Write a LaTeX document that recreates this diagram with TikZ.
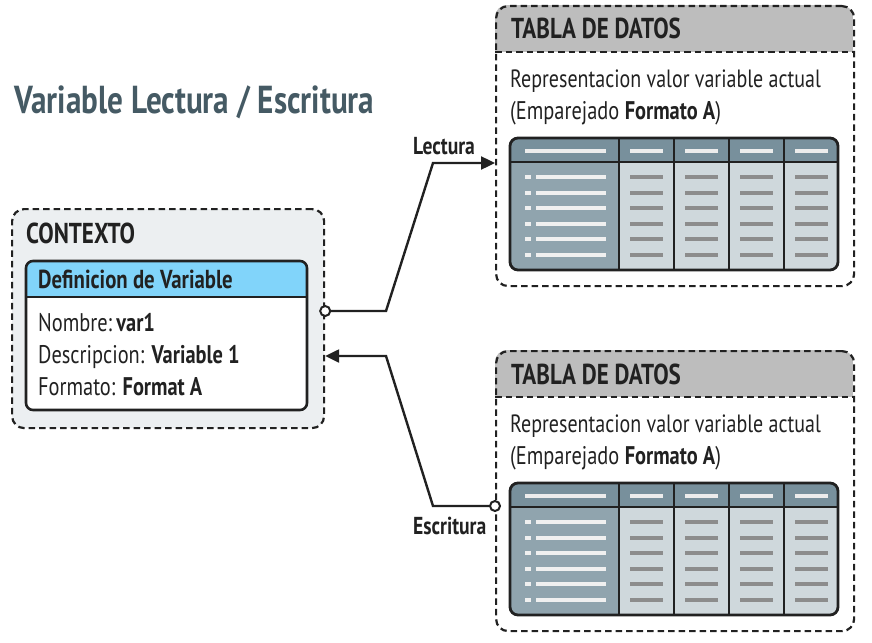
\documentclass[tikz,border=0pt]{standalone}
\usepackage{fontspec}
\setmainfont{PT Sans}[FakeStretch=0.8]
\usetikzlibrary{arrows.meta}
\definecolor{titulo}{HTML}{455A64}
\definecolor{fondoctx}{HTML}{ECEFF1}
\definecolor{azulcab}{HTML}{81D4FA}
\definecolor{grisbase}{HTML}{BDBDBD}
\definecolor{cabtabla}{HTML}{78909C}
\definecolor{colprim}{HTML}{90A4AE}
\definecolor{colresto}{HTML}{CFD8DC}
\definecolor{tinta}{HTML}{212121}
\tikzset{
 caja/.style={draw=tinta, line width=2.2pt, dash pattern=on 6.5pt off 4pt, rounded corners=12pt, inner sep=0pt},
 flecha/.style={draw=tinta, line width=2.4pt, -{Triangle[length=14pt,width=13pt]}},
 enlace/.style={circle, draw=tinta, fill=white, line width=2pt, minimum size=10pt, inner sep=0pt},
 texto/.style={anchor=base west, inner sep=0pt, text=tinta},
 etiq/.style={texto, font=\fontsize{24.5}{28}\selectfont\bfseries},
}
\begin{document}
\begin{tikzpicture}[x=1pt,y=-1pt, font=\fontsize{25.5}{30}\selectfont]
 \useasboundingbox (0,0) rectangle (872,642);
 \node[texto, text=titulo, font=\fontsize{39}{44}\selectfont\bfseries] (titulo) at (14,113) {Variable Lectura / Escritura};
 % contexto
 \node[caja, fill=fondoctx, minimum width=312, minimum height=219, anchor=north west] (ctx) at (11,208) {};
 \node[texto, font=\fontsize{28.8}{32}\selectfont\bfseries] (ctxtit) at (26,243) {CONTEXTO};
 \begin{scope}
  \clip[rounded corners=7pt] (26,261) rectangle (307,410);
  \fill[white] (26,261) rectangle (307,410);
  \fill[azulcab] (26,261) rectangle (307,297);
 \end{scope}
 \draw[tinta, line width=2.6pt, rounded corners=7pt] (26,261) rectangle (307,410);
 \draw[tinta, line width=2pt] (26,297) -- (307,297);
 \node[texto, font=\fontsize{26}{30}\selectfont\bfseries] (defvar) at (38,288) {Definicion de Variable};
 \node[texto] (nombre) at (38,331) {Nombre:\,\textbf{var1}};
 \node[texto] (descr) at (38,363) {Descripcion: \textbf{Variable 1}};
 \node[texto] (formato) at (38,395) {Formato: \textbf{Format A}};
 % tablas de datos
 \foreach \dy/\n in {0/sup,345/inf}{
  \begin{scope}[shift={(0,\dy)}]
   \begin{scope}
    \clip[rounded corners=12pt] (495,5) rectangle (853,285);
    \fill[grisbase] (495,5) rectangle (853,52);
   \end{scope}
   \node[caja, minimum width=358, minimum height=280, anchor=north west] (tabla\n) at (495,5) {};
   \draw[tinta, line width=2.2pt, dash pattern=on 6.5pt off 4pt] (495,52) -- (853,52);
   \node[texto, font=\fontsize{28.8}{32}\selectfont\bfseries] (tit\n) at (511,39) {TABLA DE DATOS};
   \node[texto, font=\fontsize{25}{30}\selectfont] (rep\n) at (510,87) {Representacion valor variable actual};
   \node[texto] (emp\n) at (510,119) {(Emparejado \textbf{Formato A})};
   \begin{scope}
    \clip[rounded corners=8pt] (510,138) rectangle (838,270);
    \fill[colresto] (510,138) rectangle (838,270);
    \fill[colprim] (510,138) rectangle (619,270);
    \fill[cabtabla] (510,138) rectangle (838,162);
   \end{scope}
   \foreach \xa in {619,674,729,784}
    \draw[tinta, line width=2.2pt] (\xa,138) -- (\xa,270);
   \draw[tinta, line width=2.2pt] (510,162) -- (838,162);
   \draw[tinta, line width=2.8pt, rounded corners=8pt] (510,138) rectangle (838,270);
   \fill[gray!15] (525,149) rectangle (606,153);
   \foreach \xc in {646.5,701.5,756.5,811}{
    \fill[gray!15] (\xc-16.5,149) rectangle (\xc+16.5,153);
    \foreach \yr in {177,193,208,224,239,255}
     \fill[gray!90] (\xc-16.5,\yr-2) rectangle (\xc+16.5,\yr+2);
   }
   \foreach \yr in {177,193,208,224,239,255}{
    \fill[gray!12] (525,\yr-2) rectangle (531,\yr+2);
    \fill[gray!12] (536,\yr-2) rectangle (606,\yr+2);
   }
  \end{scope}
 }
 % conectores
 \node[enlace] (lecini) at (ctx.east |- 0,311) {};
 \coordinate (leca) at (386,311);
 \coordinate (lecb) at (433,163);
 \draw[flecha] (lecini) -- (leca) -- (lecb) -- (tablasup.west |- lecb);
 \node[etiq] (lectura) at (413,154) {Lectura};
 \node[enlace] (escini) at (tablainf.west |- 0,506) {};
 \coordinate (esca) at (433,506);
 \coordinate (escb) at (386,356);
 \draw[flecha] (escini) -- (esca) -- (escb) -- (ctx.east |- escb);
 \node[etiq] (escritura) at (413,534) {Escritura};
\end{tikzpicture}
\end{document}
